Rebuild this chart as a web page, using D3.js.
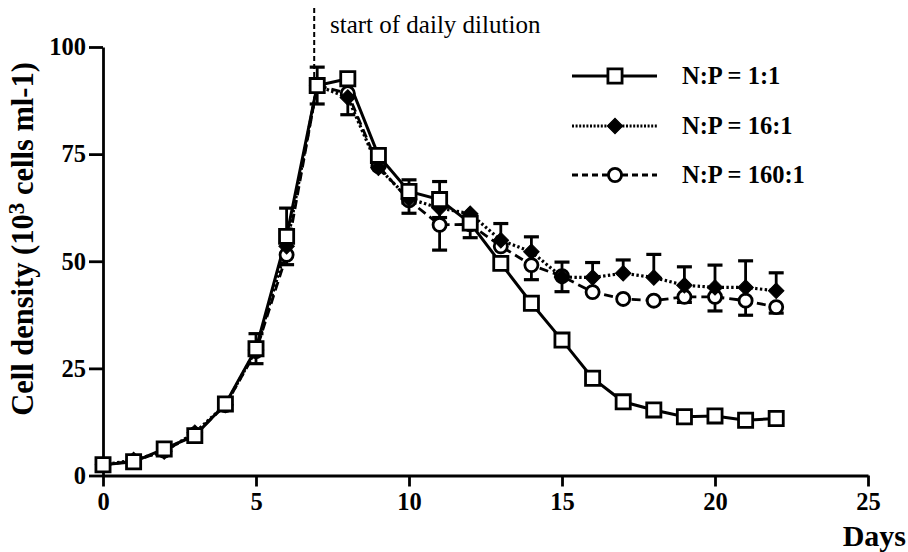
<!DOCTYPE html>
<html lang="en">
<head>
  <meta charset="UTF-8">
  <title>Cell density under daily dilution</title>
  <style>
    body { margin: 0; background: #fff; }
    svg text { font-family: "Liberation Serif", "Times New Roman", serif; fill: #000; }
  </style>
</head>
<body>
<div class="chart"></div>
<script src="https://cdn.jsdelivr.net/npm/d3@7"></script>
<script>
  // days of sampling
  const days = [0, 1, 2, 3, 4, 5, 6, 7, 8, 9, 10, 11, 12, 13, 14, 15, 16, 17, 18, 19, 20, 21, 22];

  // cell density, 10^3 cells ml-1
  const density1 = [2.5, 3.2, 6.2, 9.3, 16.7, 29.6, 55.8, 91.0, 92.6, 74.7, 66.3, 64.4, 58.9, 49.5, 40.2, 31.6, 22.7, 17.2, 15.3, 13.7, 13.9, 12.9, 13.3];
  const density16 = [2.5, 3.6, 5.6, 10.0, 16.5, 29.3, 53.5, 91.0, 88.2, 71.8, 64.6, 62.4, 61.1, 54.9, 52.2, 46.3, 46.2, 47.2, 46.2, 44.4, 43.9, 43.9, 43.1];
  const density160 = [2.5, 3.3, 5.8, 9.6, 16.4, 29.0, 51.5, 91.0, 89.2, 72.2, 64.2, 58.5, 58.6, 53.5, 49.1, 46.5, 42.8, 41.2, 40.8, 41.7, 41.7, 40.8, 39.3];

  // error bars (sd)
  const err1 = [0, 0, 0, 0, 0, 3.5, 6.6, 4.3, 0, 0, 2.7, 4.2, 0, 0, 0, 0, 0, 0, 0, 0, 0, 0, 0];
  const err16 = [0, 0, 0, 0, 0, 0, 0, 0, 0, 0, 0, 0, 0, 3.9, 3.5, 3.5, 3.5, 3.1, 5.4, 4.3, 5.2, 6.2, 4.2];
  const err160 = [0, 0, 0, 0, 0, 0, 0, 0, 5.0, 0, 3.0, 5.9, 3.1, 0, 3.4, 3.6, 0, 0, 0, 1.3, 3.3, 3.4, 1.4];

  const seriesLabels = ["N:P = 1:1", "N:P = 16:1", "N:P = 160:1"];
  const xTicks = [0, 5, 10, 15, 20, 25];
  const yTicks = [0, 25, 50, 75, 100];
  const dilutionStart = 7;

  const width = 908,
    height = 552;

  const svg = d3.select(".chart")
    .append("svg")
    .attr("width", width)
    .attr("height", height);

  const x = d3.scaleLinear().domain([0, 25]).range([103, 868]);
  const y = d3.scaleLinear().domain([0, 100]).range([475.5, 47]);

  /**
   * Axes
   */
  const xAxis = d3.axisBottom(x).tickValues(xTicks).tickSize(11).tickSizeOuter(0).tickPadding(6);
  const yAxis = d3.axisLeft(y).tickValues(yTicks).tickSize(14).tickSizeOuter(0).tickPadding(3);

  const gx = svg.append("g")
    .attr("transform", `translate(0, ${y(0)})`)
    .call(xAxis);

  const gy = svg.append("g")
    .attr("transform", `translate(${x(0)}, 0)`)
    .call(yAxis);

  [gx, gy].forEach(g => {
    g.select(".domain").attr("stroke", "#000").attr("stroke-width", 2.8);
    g.selectAll(".tick line").attr("stroke", "#000").attr("stroke-width", 2.8);
    g.selectAll(".tick text")
      .attr("font-size", 24.5)
      .attr("font-weight", "bold")
      .attr("fill", "#000");
  });

  const yLabel = svg.append("text")
    .attr("transform", "translate(33, 239) rotate(-90)")
    .attr("text-anchor", "middle")
    .attr("font-size", 30.5)
    .attr("font-weight", "bold");
  yLabel.append("tspan").text("Cell density (10");
  yLabel.append("tspan").attr("dy", -9).attr("font-size", 23).text("3");
  yLabel.append("tspan").attr("dy", 9).text(" cells ml-1)");

  svg.append("text")
    .attr("x", 906)
    .attr("y", 546)
    .attr("text-anchor", "end")
    .attr("font-size", 30)
    .attr("font-weight", "bold")
    .text("Days");

  // start of dilution marker
  svg.append("line")
    .attr("x1", x(dilutionStart) - 3)
    .attr("x2", x(dilutionStart) - 3)
    .attr("y1", 8)
    .attr("y2", y(density1[7]))
    .attr("stroke", "#000")
    .attr("stroke-width", 2)
    .attr("stroke-dasharray", "5,3");

  svg.append("text")
    .attr("x", 330)
    .attr("y", 33)
    .attr("font-size", 25)
    .text("start of daily dilution");

  /**
   * Series
   */
  const series = [
    { values: density1, err: err1, up: true, down: true, dash: null, width: 3, marker: "square" },
    { values: density16, err: err16, up: true, down: false, dash: "2.4,2.4", width: 3.2, marker: "diamond" },
    { values: density160, err: err160, up: false, down: true, dash: "9,5", width: 2.8, marker: "circle" }
  ];

  const symbols = {
    square: { type: d3.symbolSquare, size: 200, fill: "#fff", rotate: 0 },
    diamond: { type: d3.symbolSquare, size: 120, fill: "#000", rotate: 45 },
    circle: { type: d3.symbolCircle, size: 135, fill: "#fff", rotate: 0 }
  };

  const line = d3.line()
    .x((d, i) => x(days[i]))
    .y(d => y(d));

  // error bars behind everything
  const capHalf = 7.5;
  series.forEach(s => {
    const g = svg.append("g");
    days.forEach((day, i) => {
      if (!s.err[i]) return;
      const ends = [];
      if (s.up) ends.push(s.values[i] + s.err[i]);
      if (s.down) ends.push(s.values[i] - s.err[i]);
      ends.forEach(v => {
        g.append("line")
          .attr("x1", x(day)).attr("x2", x(day))
          .attr("y1", y(s.values[i])).attr("y2", y(v))
          .attr("stroke", "#000").attr("stroke-width", 2.8);
        g.append("line")
          .attr("x1", x(day) - capHalf).attr("x2", x(day) + capHalf)
          .attr("y1", y(v)).attr("y2", y(v))
          .attr("stroke", "#000").attr("stroke-width", 3.2);
      });
    });
  });

  // lines, back to front: 160:1, 16:1, 1:1
  [2, 1, 0].forEach(k => {
    const s = series[k];
    svg.append("path")
      .datum(s.values)
      .attr("d", line)
      .attr("fill", "none")
      .attr("stroke", "#000")
      .attr("stroke-width", s.width)
      .attr("stroke-dasharray", s.dash);
  });

  function drawMarker(g, kind, cx, cy) {
    const m = symbols[kind];
    g.append("path")
      .attr("d", d3.symbol().type(m.type).size(m.size)())
      .attr("transform", `translate(${cx}, ${cy}) rotate(${m.rotate})`)
      .attr("fill", m.fill)
      .attr("stroke", "#000")
      .attr("stroke-width", kind === "diamond" ? 1 : 2.8);
  }

  [2, 1, 0].forEach(k => {
    const s = series[k];
    const g = svg.append("g");
    s.values.forEach((v, i) => drawMarker(g, s.marker, x(days[i]), y(v)));
  });

  /**
   * Legend
   */
  const legend = svg.append("g");
  const legendRows = [76, 126, 175];
  series.forEach((s, k) => {
    const ly = legendRows[k];
    legend.append("line")
      .attr("x1", 572).attr("x2", 657)
      .attr("y1", ly).attr("y2", ly)
      .attr("stroke", "#000")
      .attr("stroke-width", s.width)
      .attr("stroke-dasharray", s.dash === null ? null : (k === 1 ? "2,1.6" : "6,4"));
    drawMarker(legend, s.marker, 615, ly);
    legend.append("text")
      .attr("x", 682)
      .attr("y", ly + 8)
      .attr("font-size", 24.5)
      .attr("font-weight", "bold")
      .text(seriesLabels[k]);
  });
</script>
</body>
</html>
